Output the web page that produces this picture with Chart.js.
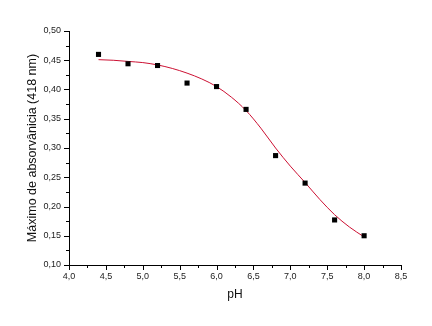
<!DOCTYPE html>
<html>
<head>
<meta charset="utf-8">
<script src="https://cdn.jsdelivr.net/npm/chart.js@4"></script>
<style>
  html, body { margin: 0; padding: 0; background: #fff; }
  #wrap { width: 432px; height: 326px; }
</style>
</head>
<body>
<div id="wrap"><canvas id="absChart" width="432" height="326"></canvas></div>
<script>
// measured points
const phValues = [4.4, 4.8, 5.2, 5.6, 6.0, 6.4, 6.8, 7.2, 7.6, 8.0];
const absorbance = [0.460, 0.444, 0.441, 0.411, 0.405, 0.366, 0.287, 0.240, 0.177, 0.150];

// fitted curve
const fitPh = [4.4, 4.6, 4.8, 5.0, 5.2, 5.4, 5.6, 5.8, 6.0, 6.2, 6.4, 6.6, 6.8, 7.0, 7.2, 7.4, 7.6, 7.8, 8.0];
const fitAbs = [0.451, 0.450, 0.448, 0.446, 0.442, 0.436, 0.428, 0.418, 0.405, 0.387, 0.364, 0.334, 0.300, 0.269, 0.241, 0.212, 0.186, 0.165, 0.148];

const xTicks = [4.0, 4.5, 5.0, 5.5, 6.0, 6.5, 7.0, 7.5, 8.0, 8.5];
const yTicks = [0.10, 0.15, 0.20, 0.25, 0.30, 0.35, 0.40, 0.45, 0.50];

const commaFmt = (v, digits) => v.toFixed(digits).replace(".", ",");

const isMajor = (list, v) => list.some((t) => Math.abs(t - v) < 1e-6);

// draws major/minor outward ticks
const tickMarks = {
  id: "tickMarks",
  afterDraw(chart) {
    const ctx = chart.ctx;
    const xs = chart.scales.x;
    const ys = chart.scales.y;
    const area = chart.chartArea;
    ctx.save();
    ctx.strokeStyle = "#000";
    ctx.lineWidth = 1;
    ctx.beginPath();
    xs.ticks.forEach((t) => {
      const px = Math.round(xs.getPixelForValue(t.value)) + 0.5;
      const len = isMajor(xTicks, t.value) ? 5 : 3;
      ctx.moveTo(px, area.bottom);
      ctx.lineTo(px, area.bottom + len);
    });
    ys.ticks.forEach((t) => {
      const py = Math.round(ys.getPixelForValue(t.value)) + 0.5;
      const len = isMajor(yTicks, t.value) ? 5 : 3;
      ctx.moveTo(area.left, py);
      ctx.lineTo(area.left - len, py);
    });
    ctx.stroke();
    ctx.restore();
  },
};

const tickFont = { family: "'Liberation Sans', Arial, sans-serif", size: 9 };
const titleFont = { family: "'Liberation Sans', Arial, sans-serif", size: 12 };

new Chart(document.getElementById("absChart"), {
  type: "scatter",
  data: {
    datasets: [
      {
        label: "fit",
        data: fitPh.map((x, i) => ({ x, y: fitAbs[i] })),
        showLine: true,
        borderColor: "#cc1133",
        borderWidth: 1,
        pointRadius: 0,
        cubicInterpolationMode: "monotone",
        order: 2,
      },
      {
        label: "data",
        data: phValues.map((x, i) => ({ x, y: absorbance[i] })),
        pointStyle: "rect",
        pointRadius: 3.6,
        borderWidth: 0,
        backgroundColor: "#000",
        borderColor: "#000",
        order: 1,
      },
    ],
  },
  options: {
    responsive: false,
    animation: false,
    layout: { padding: { left: 0, right: 31, top: 31, bottom: 0 } },
    plugins: {
      legend: { display: false },
      tooltip: { enabled: false },
    },
    scales: {
      x: {
        type: "linear",
        min: 4.0,
        max: 8.5,
        afterFit: (s) => { s.height = 61; },
        afterBuildTicks: (s) => {
          const t = [];
          for (let i = 0; i <= 18; i++) t.push({ value: 4 + i * 0.25 });
          s.ticks = t;
        },
        ticks: {
          autoSkip: false,
          maxRotation: 0,
          padding: 1,
          color: "#222",
          font: tickFont,
          callback: (v) => (isMajor(xTicks, v) ? commaFmt(v, 1) : ""),
        },
        grid: { drawOnChartArea: false, drawTicks: true, tickLength: 5, color: "rgba(0,0,0,0)" },
        border: { display: true, color: "#000", width: 1 },
        title: { display: true, text: "pH", color: "#111", font: titleFont, padding: { bottom: 24 } },
      },
      y: {
        type: "linear",
        min: 0.10,
        max: 0.50,
        afterFit: (s) => { s.width = 69; },
        afterBuildTicks: (s) => {
          const t = [];
          for (let i = 0; i <= 16; i++) t.push({ value: 0.1 + i * 0.025 });
          s.ticks = t;
        },
        ticks: {
          autoSkip: false,
          padding: 3,
          color: "#222",
          font: tickFont,
          callback: (v) => (isMajor(yTicks, v) ? commaFmt(v, 2) : ""),
        },
        grid: { drawOnChartArea: false, drawTicks: true, tickLength: 5, color: "rgba(0,0,0,0)" },
        border: { display: true, color: "#000", width: 1 },
        title: {
          display: true,
          text: "Máximo de absorvânicia (418 nm)",
          color: "#111",
          font: { family: titleFont.family, size: 12.5 },
          padding: { top: 25 },
        },
      },
    },
  },
  plugins: [tickMarks],
});
</script>
</body>
</html>
